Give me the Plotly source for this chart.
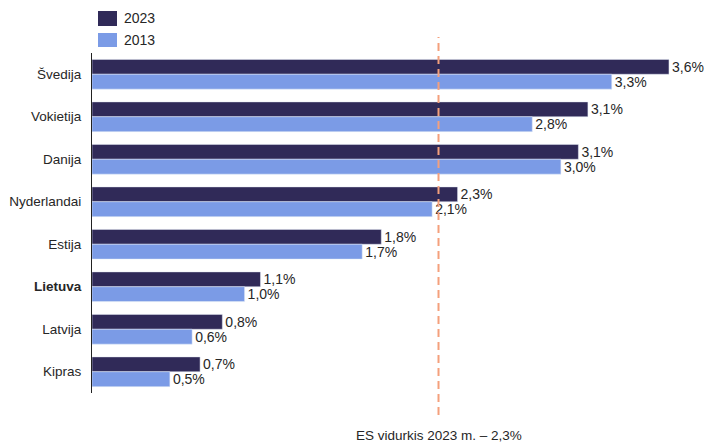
import plotly.graph_objects as go

countries = ["Švedija", "Vokietija", "Danija", "Nyderlandai", "Estija", "Lietuva", "Latvija", "Kipras"]
tick_labels = ["Švedija", "Vokietija", "Danija", "Nyderlandai", "Estija", "<b>Lietuva</b>", "Latvija", "Kipras"]
values_2023 = [3.63, 3.12, 3.06, 2.30, 1.82, 1.06, 0.82, 0.68]
values_2013 = [3.27, 2.77, 2.95, 2.14, 1.70, 0.96, 0.63, 0.49]
labels_2023 = ["3,6%", "3,1%", "3,1%", "2,3%", "1,8%", "1,1%", "0,8%", "0,7%"]
labels_2013 = ["3,3%", "2,8%", "3,0%", "2,1%", "1,7%", "1,0%", "0,6%", "0,5%"]
series_names = ["2023", "2013"]
series_colors = ["#302A58", "#7B9BE6"]
eu_avg_position = 2.18
eu_avg_label = "ES vidurkis 2023 m. – 2,3%"

font_family = "Liberation Sans, Arial, sans-serif"
text_color = "#262626"

fig = go.Figure()
for name, vals, labs, col in zip(series_names, [values_2023, values_2013],
                                 [labels_2023, labels_2013], series_colors):
    fig.add_trace(go.Bar(
        y=countries, x=vals, orientation="h", name=name,
        marker=dict(color=col),
        text=labs, textposition="outside", cliponaxis=False,
        constraintext="none",
        textfont=dict(size=14, color=text_color, family=font_family),
    ))

# EU average reference line and label
fig.add_shape(type="line", xref="x", yref="paper",
              x0=eu_avg_position, x1=eu_avg_position, y0=-0.065, y1=1.047,
              line=dict(color="#F4A07C", width=2, dash="8px,5px"))
fig.add_annotation(xref="x", yref="paper", x=eu_avg_position, y=-0.125,
                   text=eu_avg_label, showarrow=False,
                   font=dict(size=13.5, color=text_color, family=font_family),
                   xanchor="center", yanchor="middle")

# manual legend
legend_rows = [(1.1235, 1.0794, 1.1015), (1.0588, 1.0176, 1.0382)]
for (ytop, ybot, ymid), name, col in zip(legend_rows, series_names, series_colors):
    fig.add_shape(type="rect", xref="paper", yref="paper",
                  x0=0.0099, x1=0.0414, y0=ybot, y1=ytop,
                  fillcolor=col, line=dict(width=0))
    fig.add_annotation(xref="paper", yref="paper", x=0.0497, y=ymid,
                       text=name, showarrow=False, xanchor="left", yanchor="middle",
                       font=dict(size=14, color=text_color, family=font_family))

fig.update_layout(
    width=705, height=443,
    margin=dict(l=92, r=9, t=53, b=50, autoexpand=False),
    barmode="group", bargap=0.3, bargroupgap=0,
    plot_bgcolor="white", paper_bgcolor="white",
    font=dict(family=font_family, size=14, color=text_color),
    showlegend=False,
    xaxis=dict(range=[0, 3.8], visible=False, fixedrange=True),
    yaxis=dict(autorange="reversed", tickvals=countries, ticktext=tick_labels,
               showline=True, linecolor="#222222", linewidth=1,
               ticks="", showgrid=False, ticklabelstandoff=7,
               tickfont=dict(size=13.5, color=text_color)),
)

fig.write_html(
    "out.html",
    config={"displayModeBar": False},
    post_script="document.body.style.margin='0';document.body.style.overflow='hidden';",
)
